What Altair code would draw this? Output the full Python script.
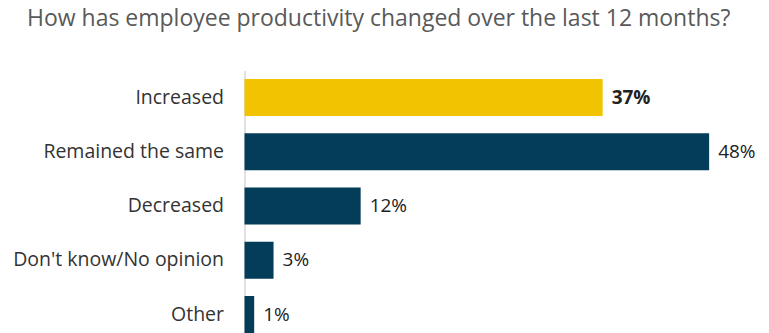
import altair as alt
import pandas as pd

title_text = "How has employee productivity changed over the last 12 months?"
categories = ["Increased", "Remained the same", "Decreased", "Don't know/No opinion", "Other"]
values = [37, 48, 12, 3, 1]
groups = ["hl", "base", "base", "base", "base"]

df = pd.DataFrame({
    "cat": categories,
    "val": values,
    "grp": groups,
    "label": [f"{v}%" for v in values],
})

y = alt.Y(
    "cat:N", sort=categories, title=None,
    scale=alt.Scale(paddingInner=0.318, paddingOuter=0.159),
    axis=alt.Axis(domainColor="#e2e2e2", domainWidth=2, ticks=False, labelPadding=21,
                  labelFontSize=19.5, labelColor="#333333", labelFont="Open Sans",
                  grid=False, labelLimit=300),
)
x = alt.X("val:Q", scale=alt.Scale(domain=[0, 50]), axis=None)

bars = alt.Chart(df).mark_bar().encode(
    x=x, y=y,
    color=alt.Color("grp:N", scale=alt.Scale(domain=["hl", "base"], range=["#F2C300", "#033D5A"]), legend=None),
)
text_bold = alt.Chart(df).transform_filter("datum.grp == 'hl'").mark_text(
    align="left", baseline="middle", dx=9, fontSize=19, font="Open Sans",
    fontWeight="bold", color="#222222").encode(x=x, y=y, text="label:N")
text_norm = alt.Chart(df).transform_filter("datum.grp != 'hl'").mark_text(
    align="left", baseline="middle", dx=9, fontSize=19, font="Open Sans",
    fontWeight="normal", color="#222222").encode(x=x, y=y, text="label:N")

chart = (bars + text_bold + text_norm).properties(
    width=484, height=271.25,
    autosize=alt.AutoSizeParams(type="none"),
    padding={"left": 244.5, "top": 70.4, "right": 40.5, "bottom": 0},
    title=alt.TitleParams(title_text, anchor="start", frame="group", dx=-217.5, fontSize=23,
                          font="Open Sans", fontWeight="normal", color="#595959",
                          baseline="alphabetic", offset=21),
).configure_view(stroke=None)

chart.save("out.html", embed_options={"renderer": "svg", "actions": False})
